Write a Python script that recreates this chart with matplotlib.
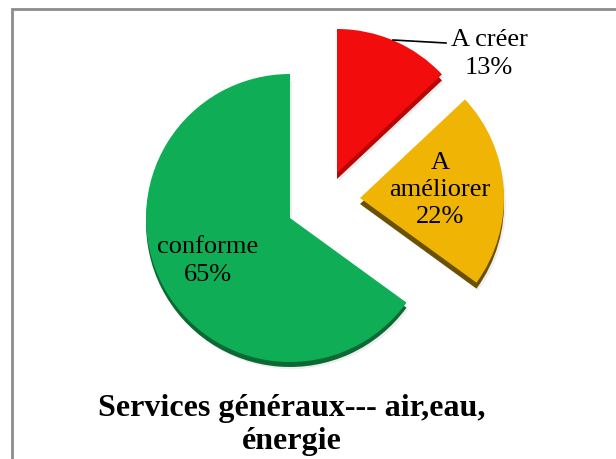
import numpy as np
import matplotlib.pyplot as plt
from matplotlib.patches import Wedge, Rectangle

W, H = 616, 459

labels = ['A créer', 'A\naméliorer', 'conforme']
values = [13, 22, 65]
colors = ['#f20c0c', '#f0b405', '#0fae56']
side_colors = ['#b80606', '#6a5000', '#0b6a33']
title = 'Services généraux--- air,eau,\nénergie'

# slice centres (pixel coords, y down) - the two small slices are pulled out
centers = [(337, 173), (360, 198), (290, 218)]
label_pos = [(489, 54), (440, 190), (208, 261)]
radius = 144
depth = [6, 6, 5]

fig = plt.figure(figsize=(W / 100, H / 100), dpi=100)
ax = fig.add_axes([0, 0, 1, 1])
ax.set_xlim(0, W)
ax.set_ylim(0, H)
ax.set_aspect('equal')
ax.axis('off')

# outer frame (right/bottom edges are cut off in the picture)
ax.add_patch(Rectangle((12, -20), W + 20, H - 9 + 20, fill=False,
                       edgecolor='#8c8c8c', linewidth=2))

# angles, starting at 12 o'clock and going clockwise
cum = np.concatenate([[0], np.cumsum(values)])
theta2 = 90 - 3.6 * cum[:-1]
theta1 = 90 - 3.6 * cum[1:]

for i in range(len(values)):
    cx, cy = centers[i][0], H - centers[i][1]
    # soft shadow
    ax.add_patch(Wedge((cx + 2, cy - depth[i] - 2), radius, theta1[i], theta2[i],
                       facecolor='#e3e3e3', edgecolor='none', alpha=0.6))
    # side of the 3d slice
    ax.add_patch(Wedge((cx, cy - depth[i]), radius, theta1[i], theta2[i],
                       facecolor=side_colors[i], edgecolor='none'))
    # top face
    ax.add_patch(Wedge((cx, cy), radius, theta1[i], theta2[i],
                       facecolor=colors[i], edgecolor='none'))

serif = ['Liberation Serif', 'DejaVu Serif']
texts = [f'{l}\n{v}%' for l, v in zip(labels, values)]
for t, (x, y) in zip(texts, label_pos):
    ax.text(x, H - y, t, ha='center', va='center', fontsize=19,
            family=serif, linespacing=1.3)

# leader line for "A créer"
ax.plot([393, 446], [H - 40, H - 43], color='black', linewidth=1.2)

ax.text(292, H - 425, title, ha='center', va='center', fontsize=23,
        fontweight='bold', family=serif, linespacing=1.15)

fig.savefig('out.png', dpi=100)
